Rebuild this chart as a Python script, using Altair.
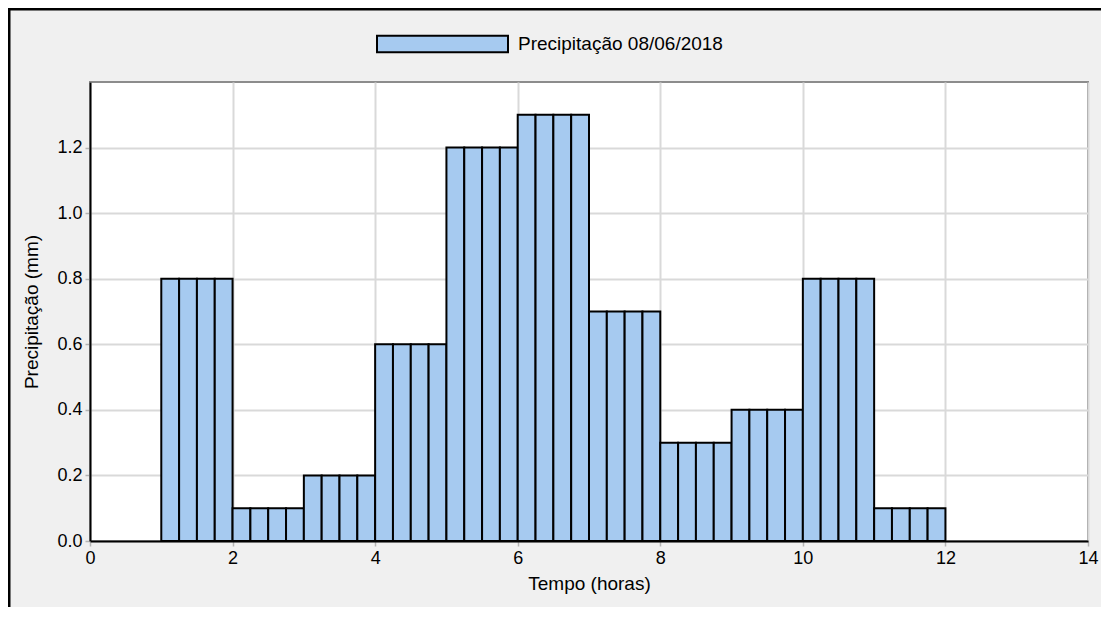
import altair as alt
import pandas as pd

# Início de cada intervalo de 15 minutos (horas)
inicio = [1.0, 1.25, 1.5, 1.75, 2.0, 2.25, 2.5, 2.75, 3.0, 3.25, 3.5, 3.75,
          4.0, 4.25, 4.5, 4.75, 5.0, 5.25, 5.5, 5.75, 6.0, 6.25, 6.5, 6.75,
          7.0, 7.25, 7.5, 7.75, 8.0, 8.25, 8.5, 8.75, 9.0, 9.25, 9.5, 9.75,
          10.0, 10.25, 10.5, 10.75, 11.0, 11.25, 11.5, 11.75]
# Fim de cada intervalo (horas)
fim = [1.25, 1.5, 1.75, 2.0, 2.25, 2.5, 2.75, 3.0, 3.25, 3.5, 3.75, 4.0,
       4.25, 4.5, 4.75, 5.0, 5.25, 5.5, 5.75, 6.0, 6.25, 6.5, 6.75, 7.0,
       7.25, 7.5, 7.75, 8.0, 8.25, 8.5, 8.75, 9.0, 9.25, 9.5, 9.75, 10.0,
       10.25, 10.5, 10.75, 11.0, 11.25, 11.5, 11.75, 12.0]
# Precipitação (mm)
precip = [0.8, 0.8, 0.8, 0.8, 0.1, 0.1, 0.1, 0.1, 0.2, 0.2, 0.2, 0.2,
          0.6, 0.6, 0.6, 0.6, 1.2, 1.2, 1.2, 1.2, 1.3, 1.3, 1.3, 1.3,
          0.7, 0.7, 0.7, 0.7, 0.3, 0.3, 0.3, 0.3, 0.4, 0.4, 0.4, 0.4,
          0.8, 0.8, 0.8, 0.8, 0.1, 0.1, 0.1, 0.1]
serie_nome = "Precipitação 08/06/2018"
x_ticks = [0, 2, 4, 6, 8, 10, 12, 14]
y_ticks = [0.0, 0.2, 0.4, 0.6, 0.8, 1.0, 1.2]

df = pd.DataFrame({"inicio": inicio, "fim": fim, "precip": precip,
                   "serie": [serie_nome] * len(precip)})

W, H = 998, 459
PL, PT, PR, PB = 82, 74, 13, 66
FONT = "Liberation Sans"

bars = alt.Chart(df).mark_bar(stroke="black", strokeWidth=2, opacity=1).encode(
    x=alt.X("inicio:Q", scale=alt.Scale(domain=[0, 14], nice=False, zero=False),
            axis=alt.Axis(values=x_ticks, title="Tempo (horas)", format="d")),
    x2="fim:Q",
    y=alt.Y("precip:Q", scale=alt.Scale(domain=[0, 1.4], nice=False),
            axis=alt.Axis(values=y_ticks, title="Precipitação (mm)", format=".1f",
                          titlePadding=15)),
    y2=alt.datum(0),
    color=alt.Color("serie:N", scale=alt.Scale(range=["#a6caf0"]),
                    legend=alt.Legend(
                        title=None, orient="none", legendX=286, legendY=-48,
                        symbolType="M-1,-0.125H1V0.125H-1Z", symbolSize=17161,
                        symbolStrokeColor="black", symbolStrokeWidth=2,
                        symbolOpacity=1, clipHeight=20, labelOffset=9,
                        labelLimit=400,
                        labelFont=FONT, labelFontSize=19, labelColor="black",
                        padding=0)),
)

border_df = pd.DataFrame({"a": [0]})
top_border = alt.Chart(border_df).mark_rule(color="black", strokeWidth=3).encode(
    x=alt.value(-PL), x2=alt.value(W + PR), y=alt.value(-PT + 1))
left_border = alt.Chart(border_df).mark_rule(color="black", strokeWidth=3).encode(
    x=alt.value(-PL + 1), y=alt.value(-PT), y2=alt.value(H + PB))

chart = alt.layer(bars, top_border, left_border).properties(
    width=W, height=H,
    autosize=alt.AutoSizeParams(type="none"),
    padding={"left": PL, "top": PT, "right": PR, "bottom": PB},
    background="#f0f0f0",
).configure_view(
    fill="white", stroke="#8c8c8c", strokeWidth=2
).configure_axis(
    labelFont=FONT, labelFontSize=18, labelColor="black",
    titleFont=FONT, titleFontSize=19, titleFontWeight="normal", titleColor="black",
    domainColor="black", domainWidth=2, labelFlush=False, labelOverlap=False,
    tickColor="#b4b4b4", tickSize=5, tickWidth=1.5, labelPadding=3,
    gridColor="#d9d9d9", gridWidth=2,
).configure_axisX(
    titlePadding=7
)

chart.save("out.html", embed_options={"renderer": "svg", "actions": False})
